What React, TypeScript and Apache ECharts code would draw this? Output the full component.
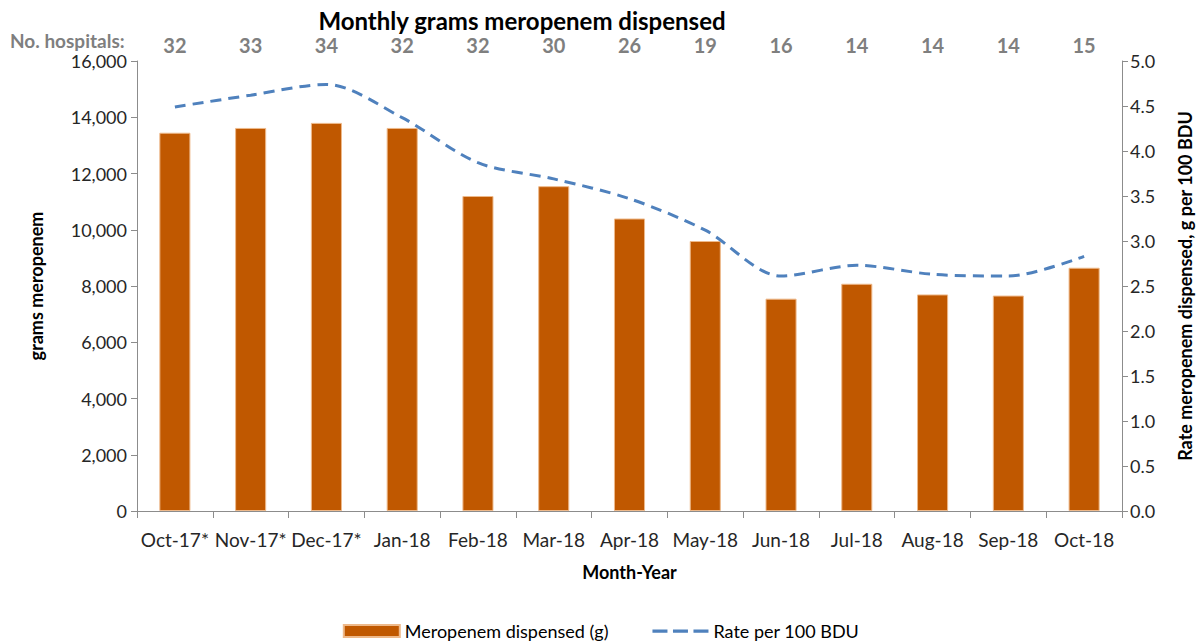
import React, { useEffect, useRef } from 'react';
import * as echarts from 'echarts';

const months = ['Oct-17*', 'Nov-17*', 'Dec-17*', 'Jan-18', 'Feb-18', 'Mar-18', 'Apr-18', 'May-18', 'Jun-18', 'Jul-18', 'Aug-18', 'Sep-18', 'Oct-18'];
const hospitals = ['32', '33', '34', '32', '32', '30', '26', '19', '16', '14', '14', '14', '15'];
const gramsDispensed = [13450, 13620, 13800, 13620, 11200, 11550, 10400, 9600, 7550, 8080, 7700, 7660, 8650];
const ratePer100BDU = [4.49, 4.62, 4.74, 4.37, 3.87, 3.69, 3.47, 3.12, 2.61, 2.73, 2.63, 2.61, 2.83];

const FONT = 'Lato, "Open Sans", sans-serif';
const DASH_ICON =
  'path://M0,4.5h15v3.2h-15z M20.5,4.5h15v3.2h-15z M41,4.5h15v3.2h-15z M0,0h0.01v0.01h-0.01z M55.99,11.99h0.01v0.01h-0.01z';

export default function App() {
  const ref = useRef<HTMLDivElement>(null);
  useEffect(() => {
    if (!ref.current) return;
    const chart = echarts.init(ref.current, null, { renderer: 'svg' });
    const axisLine = { show: true, lineStyle: { color: '#8c8c8c', width: 1 } };
    chart.setOption({
      animation: false,
      textStyle: { fontFamily: FONT },
      title: {
        text: 'Monthly grams meropenem dispensed',
        left: 522,
        textAlign: 'center',
        top: 8,
        padding: 0,
        textStyle: { fontFamily: FONT, fontSize: 24, lineHeight: 24, fontWeight: 'bold', color: '#000' },
      },
      graphic: [
        {
          type: 'text',
          left: 10,
          top: 31,
          style: { text: 'No. hospitals:', fontFamily: FONT, fontSize: 19, lineHeight: 18, fontWeight: 'bold', fill: '#7f7f7f' },
        },
      ],
      legend: {
        bottom: -1,
        left: 'center',
        itemWidth: 56,
        itemHeight: 12,
        itemGap: 44,
        textStyle: { fontFamily: FONT, fontSize: 18, color: '#000' },
        data: [
          { name: 'Meropenem dispensed (g)', icon: 'rect' },
          { name: 'Rate per 100 BDU', icon: DASH_ICON },
        ],
      },
      grid: { left: 137, right: 74, top: 61, bottom: 133 },
      xAxis: [
        {
          type: 'category',
          data: months,
          position: 'bottom',
          name: 'Month-Year',
          nameLocation: 'middle',
          nameGap: 52,
          nameTextStyle: { fontFamily: FONT, fontSize: 18, fontWeight: 'bold', color: '#000' },
          axisLine,
          axisTick: { show: true, length: 7, lineStyle: { color: '#8c8c8c' } },
          axisLabel: { fontFamily: FONT, fontSize: 19, color: '#262626', margin: 19, interval: 0 },
        },
        {
          type: 'category',
          data: hospitals,
          position: 'top',
          axisLine: { show: false },
          axisTick: { show: false },
          axisLabel: { fontFamily: FONT, fontSize: 20, lineHeight: 19, fontWeight: 'bold', color: '#7f7f7f', margin: 7, interval: 0 },
        },
      ],
      yAxis: [
        {
          type: 'value',
          min: 0,
          max: 16000,
          interval: 2000,
          name: 'grams meropenem',
          nameLocation: 'middle',
          nameRotate: 90,
          nameGap: 92,
          nameTextStyle: { fontFamily: FONT, fontSize: 18, fontWeight: 'bold', color: '#000' },
          axisLine,
          axisTick: { show: true, length: 6, lineStyle: { color: '#8c8c8c' } },
          splitLine: { show: false },
          axisLabel: {
            fontFamily: FONT,
            fontSize: 18,
            lineHeight: 16,
            color: '#262626',
            margin: 10,
            formatter: (v: number) => v.toLocaleString('en-US'),
          },
        },
        {
          type: 'value',
          min: 0,
          max: 5,
          interval: 0.5,
          position: 'right',
          name: 'Rate meropenem dispensed, g per 100 BDU',
          nameLocation: 'middle',
          nameRotate: 90,
          nameGap: 54,
          nameTextStyle: { fontFamily: FONT, fontSize: 18, fontWeight: 'bold', color: '#000' },
          axisLine,
          axisTick: { show: true, length: 6, lineStyle: { color: '#8c8c8c' } },
          splitLine: { show: false },
          axisLabel: {
            fontFamily: FONT,
            fontSize: 18,
            color: '#262626',
            margin: 8,
            formatter: (v: number) => v.toFixed(1),
          },
        },
      ],
      series: [
        {
          name: 'Meropenem dispensed (g)',
          type: 'bar',
          xAxisIndex: 0,
          yAxisIndex: 0,
          data: gramsDispensed,
          barWidth: '41%',
          itemStyle: { color: '#C05800', borderColor: '#eeb98a', borderWidth: 1 },
        },
        {
          name: 'Rate per 100 BDU',
          type: 'line',
          xAxisIndex: 0,
          yAxisIndex: 1,
          data: ratePer100BDU,
          smooth: 0.3,
          symbol: 'none',
          lineStyle: { color: '#4F81BD', width: 3, type: [11, 7] },
          itemStyle: { color: '#4F81BD' },
        },
      ],
    });
    return () => chart.dispose();
  }, []);
  return <div ref={ref} style={{ position: 'fixed', left: 0, top: 0, width: 1202, height: 644, background: '#fff' }} />;
}
